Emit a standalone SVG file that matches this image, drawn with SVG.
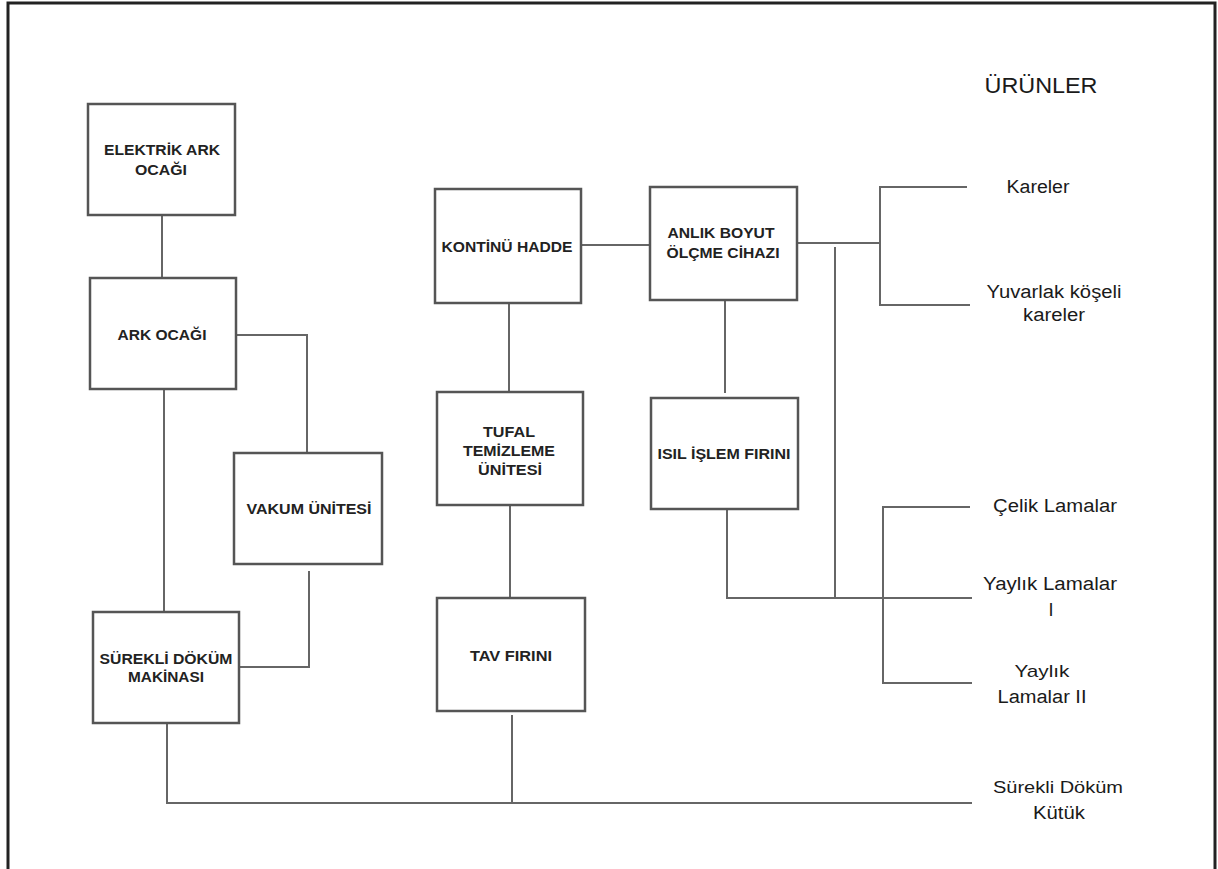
<svg xmlns="http://www.w3.org/2000/svg" width="1218" height="869" viewBox="0 0 1218 869">
<style>
.box{fill:#fff;stroke:#555;stroke-width:2.5}
.lbl{font-family:"Liberation Sans",Arial,sans-serif;font-size:14px;font-weight:bold;fill:#222;text-anchor:middle}
.out{font-family:"Liberation Sans",Arial,sans-serif;font-size:18px;fill:#1a1a1a;text-anchor:middle}
.con{fill:none;stroke:#666;stroke-width:2}
.frame{fill:none;stroke:#222;stroke-width:3}
</style>
<rect width="1218" height="869" fill="#fff"/>
<path class="frame" d="M8,869 V3 H1215 V869"/>
<g id="connectors">
<path class="con" d="M162,215 V278"/>
<path class="con" d="M236,335 H307 V453"/>
<path class="con" d="M164,389 V612"/>
<path class="con" d="M309,571 V667 H239"/>
<path class="con" d="M167,723 V803 H972"/>
<path class="con" d="M509,303 V392"/>
<path class="con" d="M510,505 V598"/>
<path class="con" d="M512,715 V803"/>
<path class="con" d="M581,245 H650"/>
<path class="con" d="M797,243 H880"/>
<path class="con" d="M725,300 V393"/>
<path class="con" d="M727,509 V598 H972"/>
<path class="con" d="M835,247 V598"/>
<path class="con" d="M967,187 H880 V305 H970"/>
<path class="con" d="M970,507 H883 V683 H972"/>
</g>
<g id="elektrik-ark-ocagi">
<rect class="box" x="88" y="104" width="147" height="111"/>
<text class="lbl" x="162" y="155" textLength="116" lengthAdjust="spacingAndGlyphs">ELEKTRİK ARK</text>
<text class="lbl" x="161" y="175" textLength="52" lengthAdjust="spacingAndGlyphs">OCAĞI</text>
</g>
<g id="ark-ocagi">
<rect class="box" x="90" y="278" width="146" height="111"/>
<text class="lbl" x="162" y="340" textLength="89" lengthAdjust="spacingAndGlyphs">ARK OCAĞI</text>
</g>
<g id="vakum-unitesi">
<rect class="box" x="234" y="453" width="148" height="111"/>
<text class="lbl" x="309" y="514" textLength="125" lengthAdjust="spacingAndGlyphs">VAKUM ÜNİTESİ</text>
</g>
<g id="surekli-dokum-makinasi">
<rect class="box" x="93" y="612" width="146" height="111"/>
<text class="lbl" x="166" y="664" textLength="133" lengthAdjust="spacingAndGlyphs">SÜREKLİ DÖKÜM</text>
<text class="lbl" x="166" y="682" textLength="76" lengthAdjust="spacingAndGlyphs">MAKİNASI</text>
</g>
<g id="kontinu-hadde">
<rect class="box" x="435" y="189" width="146" height="114"/>
<text class="lbl" x="507" y="252" textLength="131" lengthAdjust="spacingAndGlyphs">KONTİNÜ HADDE</text>
</g>
<g id="tufal-temizleme-unitesi">
<rect class="box" x="437" y="392" width="146" height="113"/>
<text class="lbl" x="509" y="437" textLength="52" lengthAdjust="spacingAndGlyphs">TUFAL</text>
<text class="lbl" x="509" y="456" textLength="92" lengthAdjust="spacingAndGlyphs">TEMİZLEME</text>
<text class="lbl" x="510" y="475" textLength="64" lengthAdjust="spacingAndGlyphs">ÜNİTESİ</text>
</g>
<g id="tav-firini">
<rect class="box" x="437" y="598" width="148" height="113"/>
<text class="lbl" x="511" y="661" textLength="82" lengthAdjust="spacingAndGlyphs">TAV FIRINI</text>
</g>
<g id="anlik-boyut-olcme-cihazi">
<rect class="box" x="650" y="187" width="147" height="113"/>
<text class="lbl" x="721" y="238" textLength="107" lengthAdjust="spacingAndGlyphs">ANLIK BOYUT</text>
<text class="lbl" x="723" y="258" textLength="113" lengthAdjust="spacingAndGlyphs">ÖLÇME CİHAZI</text>
</g>
<g id="isil-islem-firini">
<rect class="box" x="651" y="398" width="147" height="111"/>
<text class="lbl" x="724" y="459" textLength="133" lengthAdjust="spacingAndGlyphs">ISIL İŞLEM FIRINI</text>
</g>
<g id="urunler">
<text class="out" x="1041" y="93" style="font-size:22px" textLength="113" lengthAdjust="spacingAndGlyphs">ÜRÜNLER</text>
</g>
<g id="kareler">
<text class="out" x="1038" y="193" textLength="63" lengthAdjust="spacingAndGlyphs">Kareler</text>
</g>
<g id="yuvarlak-koseli-kareler">
<text class="out" x="1054" y="298" textLength="135" lengthAdjust="spacingAndGlyphs">Yuvarlak köşeli</text>
<text class="out" x="1054" y="321" textLength="62" lengthAdjust="spacingAndGlyphs">kareler</text>
</g>
<g id="celik-lamalar">
<text class="out" x="1055" y="512" textLength="124" lengthAdjust="spacingAndGlyphs">Çelik Lamalar</text>
</g>
<g id="yaylik-lamalar-1">
<text class="out" x="1050" y="590" textLength="134" lengthAdjust="spacingAndGlyphs">Yaylık Lamalar</text>
<text class="out" x="1051" y="616">I</text>
</g>
<g id="yaylik-lamalar-2">
<text class="out" x="1042" y="677" style="font-size:17px" textLength="55" lengthAdjust="spacingAndGlyphs">Yaylık</text>
<text class="out" x="1042" y="703" textLength="89" lengthAdjust="spacingAndGlyphs">Lamalar II</text>
</g>
<g id="surekli-dokum-kutuk">
<text class="out" x="1058" y="793" style="font-size:16px" textLength="130" lengthAdjust="spacingAndGlyphs">Sürekli Döküm</text>
<text class="out" x="1059" y="819" textLength="52" lengthAdjust="spacingAndGlyphs">Kütük</text>
</g>
</svg>
